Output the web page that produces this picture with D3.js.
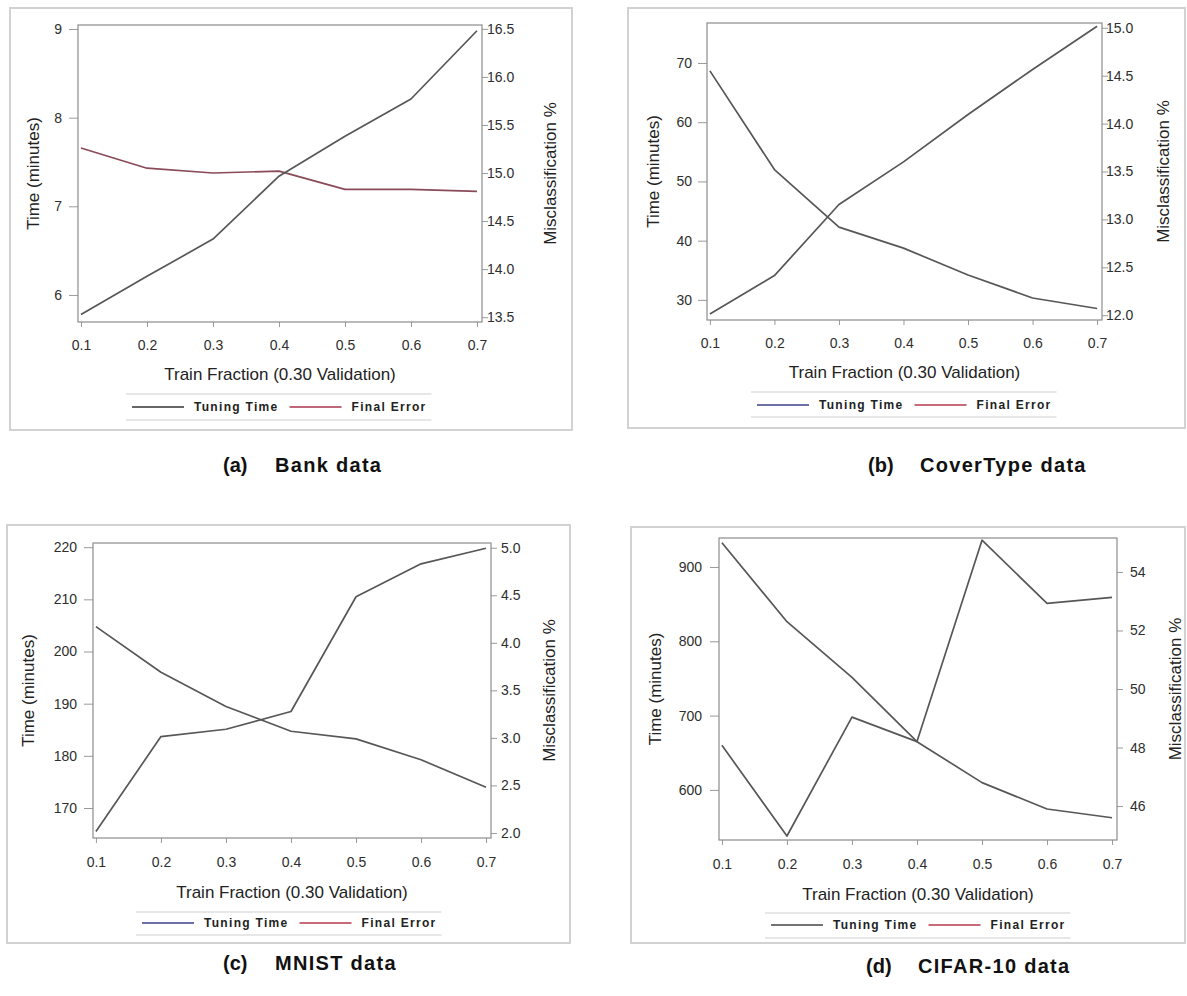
<!DOCTYPE html>
<html>
<head>
<meta charset="utf-8">
<script src="https://cdn.jsdelivr.net/npm/d3@7"></script>
<style>
  html, body { margin: 0; padding: 0; background: #ffffff; }
  svg { display: block; font-family: "Liberation Sans", Arial, sans-serif; }
</style>
</head>
<body>
<svg id="chart" width="1187" height="996"></svg>
<script>
// Train fractions shared by every panel
const fractions = [0.1, 0.2, 0.3, 0.4, 0.5, 0.6, 0.7];
const xTickValues = [0.1, 0.2, 0.3, 0.4, 0.5, 0.6, 0.7];

// Panel captions
const panelLetters = ["(a)", "(b)", "(c)", "(d)"];
const panelNames = ["Bank data", "CoverType data", "MNIST data", "CIFAR-10 data"];

// Tuning time (minutes) per train fraction
const bankTime  = [5.78, 6.21, 6.63, 7.34, 7.79, 8.21, 8.98];
const coverTime = [27.6, 34.1, 46.1, 53.3, 61.3, 68.9, 76.2];
const mnistTime = [165.5, 183.7, 185.1, 188.5, 210.5, 216.8, 219.8];
const cifarTime = [660, 538, 698, 665, 936, 851, 859];

// Final misclassification error (%) per train fraction
const bankError  = [15.26, 15.05, 15.00, 15.02, 14.83, 14.83, 14.81];
const coverError = [14.55, 13.52, 12.92, 12.70, 12.42, 12.18, 12.07];
const mnistError = [4.17, 3.69, 3.33, 3.07, 2.99, 2.77, 2.48];
const cifarError = [55.0, 52.3, 50.4, 48.2, 46.8, 45.9, 45.6];

// Axis extents and tick labels
const xDomain = [0.0955, 0.7076];
const bankTimeDomain  = [5.695, 9.045];
const coverTimeDomain = [26.6, 76.75];
const mnistTimeDomain = [164.25, 220.8];
const cifarTimeDomain = [532.6, 939];
const bankErrorDomain  = [13.45, 16.54];
const coverErrorDomain = [11.95, 15.05];
const mnistErrorDomain = [1.947, 5.05];
const cifarErrorDomain = [44.84, 55.16];

const bankTimeTicks  = [6, 7, 8, 9];
const coverTimeTicks = [30, 40, 50, 60, 70];
const mnistTimeTicks = [170, 180, 190, 200, 210, 220];
const cifarTimeTicks = [600, 700, 800, 900];
const bankErrorTicks  = [13.5, 14.0, 14.5, 15.0, 15.5, 16.0, 16.5];
const coverErrorTicks = [12.0, 12.5, 13.0, 13.5, 14.0, 14.5, 15.0];
const mnistErrorTicks = [2.0, 2.5, 3.0, 3.5, 4.0, 4.5, 5.0];
const cifarErrorTicks = [46, 48, 50, 52, 54];

const xTitle = "Train Fraction (0.30 Validation)";
const leftTitle = "Time (minutes)";
const rightTitle = "Misclassification %";
const legendLabels = ["Tuning Time", "Final Error"];

// Series bundled per panel
const panels = [
  { time: bankTime,  error: bankError,  tD: bankTimeDomain,  eD: bankErrorDomain,  tT: bankTimeTicks,  eT: bankErrorTicks,  eFmt: ".1f" },
  { time: coverTime, error: coverError, tD: coverTimeDomain, eD: coverErrorDomain, tT: coverTimeTicks, eT: coverErrorTicks, eFmt: ".1f" },
  { time: mnistTime, error: mnistError, tD: mnistTimeDomain, eD: mnistErrorDomain, tT: mnistTimeTicks, eT: mnistErrorTicks, eFmt: ".1f" },
  { time: cifarTime, error: cifarError, tD: cifarTimeDomain, eD: cifarErrorDomain, tT: cifarTimeTicks, eT: cifarErrorTicks, eFmt: "d" }
];

// Page geometry of each panel
const layout = [
  { frame: [10, 8, 572, 430], plot: [78, 25, 482, 322], lLab: 62, lTitle: 33, rLab: 487, rTitle: 550,
    tickY: 350, xTitleY: 380, legX: 132, legTop: 394, legBot: 420, legText: 411, capX: 223, capY: 472,
    lineColors: ["#575757", "#8a4a58"], legColors: ["#333333", "#a8354f"] },
  { frame: [628, 8, 1185, 428], plot: [707, 23, 1102, 320], lLab: 692, lTitle: 653, rLab: 1106, rTitle: 1163,
    tickY: 348, xTitleY: 378, legX: 757, legTop: 392, legBot: 417, legText: 409, capX: 868, capY: 472,
    lineColors: ["#575757", "#575757"], legColors: ["#3a3f85", "#b33a4e"] },
  { frame: [7, 525, 570, 943], plot: [93, 543, 491, 838], lLab: 77, lTitle: 28, rLab: 501, rTitle: 549,
    tickY: 867, xTitleY: 898, legX: 142, legTop: 912, legBot: 935, legText: 927, capX: 223, capY: 970,
    lineColors: ["#575757", "#575757"], legColors: ["#3a3f85", "#b33a4e"] },
  { frame: [631, 527, 1185, 943], plot: [719, 538, 1117, 840], lLab: 702, lTitle: 655, rLab: 1130, rTitle: 1175,
    tickY: 869, xTitleY: 900, legX: 771, legTop: 913, legBot: 938, legText: 929, capX: 866, capY: 973,
    lineColors: ["#575757", "#575757"], legColors: ["#444444", "#b33a4e"] }
];

const svg = d3.select("#chart");

panels.forEach((p, i) => {
  const g = layout[i];
  const [L, T, R, B] = g.plot;
  const [fx0, fy0, fx1, fy1] = g.frame;
  const panel = svg.append("g");

  // outer frame
  panel.append("rect")
    .attr("x", fx0).attr("y", fy0).attr("width", fx1 - fx0).attr("height", fy1 - fy0)
    .attr("fill", "#ffffff").attr("stroke", "#d2d2d2").attr("stroke-width", 2);

  const x = d3.scaleLinear().domain(xDomain).range([L, R]);
  const yL = d3.scaleLinear().domain(p.tD).range([B, T]);
  const yR = d3.scaleLinear().domain(p.eD).range([B, T]);

  const tickSizeL = 9, tickSizeR = 6, tickSizeX = 5;

  const styleAxis = sel => {
    sel.select(".domain").remove();
    sel.selectAll(".tick line").attr("stroke", "#9a9a9a");
    sel.selectAll(".tick text").attr("fill", "#2e2e2e").style("font-size", "14px");
  };

  // left axis: time
  panel.append("g")
    .attr("transform", `translate(${L},0)`)
    .call(d3.axisLeft(yL).tickValues(p.tT).tickFormat(d3.format("d"))
      .tickSize(tickSizeL).tickPadding(L - g.lLab - tickSizeL))
    .call(styleAxis);

  // right axis: misclassification
  panel.append("g")
    .attr("transform", `translate(${R},0)`)
    .call(d3.axisRight(yR).tickValues(p.eT).tickFormat(d3.format(p.eFmt))
      .tickSize(tickSizeR).tickPadding(g.rLab - R - tickSizeR))
    .call(styleAxis);

  // bottom axis: train fraction
  panel.append("g")
    .attr("transform", `translate(0,${B})`)
    .call(d3.axisBottom(x).tickValues(xTickValues).tickFormat(d3.format(".1f"))
      .tickSize(tickSizeX).tickPadding(g.tickY - B - tickSizeX - 10))
    .call(styleAxis);

  // plot area border
  panel.append("rect")
    .attr("x", L).attr("y", T).attr("width", R - L).attr("height", B - T)
    .attr("fill", "none").attr("stroke", "#8c8c8c").attr("stroke-width", 1.2);

  // series
  const timeLine = d3.line().x((d, k) => x(fractions[k])).y(d => yL(d));
  const errLine = d3.line().x((d, k) => x(fractions[k])).y(d => yR(d));

  panel.append("path").datum(p.error)
    .attr("d", errLine).attr("fill", "none")
    .attr("stroke", g.lineColors[1]).attr("stroke-width", 1.7).attr("stroke-linejoin", "round");
  panel.append("path").datum(p.time)
    .attr("d", timeLine).attr("fill", "none")
    .attr("stroke", g.lineColors[0]).attr("stroke-width", 1.7).attr("stroke-linejoin", "round");

  // axis titles
  panel.append("text")
    .attr("x", (L + R) / 2).attr("y", g.xTitleY)
    .attr("text-anchor", "middle").attr("fill", "#222").style("font-size", "17px")
    .text(xTitle);
  panel.append("text")
    .attr("transform", `translate(${g.lTitle},${(T + B) / 2}) rotate(-90)`)
    .attr("text-anchor", "middle").attr("dominant-baseline", "central")
    .attr("fill", "#222").style("font-size", "17px")
    .text(leftTitle);
  panel.append("text")
    .attr("transform", `translate(${g.rTitle},${(T + B) / 2}) rotate(-90)`)
    .attr("text-anchor", "middle").attr("dominant-baseline", "central")
    .attr("fill", "#222").style("font-size", "17px")
    .text(rightTitle);

  // legend
  const leg = panel.append("g");
  const lineLen = 52;
  let cx = g.legX;
  legendLabels.forEach((lab, k) => {
    leg.append("line")
      .attr("x1", cx).attr("x2", cx + lineLen)
      .attr("y1", g.legText - 4).attr("y2", g.legText - 4)
      .attr("stroke", g.legColors[k]).attr("stroke-width", 1.4);
    cx += lineLen + 10;
    const t = leg.append("text")
      .attr("x", cx).attr("y", g.legText)
      .attr("fill", "#222").style("font-size", "12px").style("font-weight", "bold")
      .style("letter-spacing", "1.3px")
      .text(lab);
    cx += t.node().getComputedTextLength() + 11;
  });
  const legEnd = cx - 6;
  [g.legTop, g.legBot].forEach(yy => {
    leg.append("line")
      .attr("x1", g.legX - 6).attr("x2", legEnd)
      .attr("y1", yy).attr("y2", yy)
      .attr("stroke", "#cfcfcf").attr("stroke-width", 1.2);
  });

  // caption
  panel.append("text")
    .attr("x", g.capX).attr("y", g.capY)
    .attr("fill", "#111").style("font-size", "20px").style("font-weight", "bold")
    .text(panelLetters[i]);
  panel.append("text")
    .attr("x", g.capX + 52).attr("y", g.capY)
    .attr("fill", "#111").style("font-size", "20px").style("font-weight", "bold")
    .style("letter-spacing", "1.3px")
    .text(panelNames[i]);
});
</script>
</body>
</html>
